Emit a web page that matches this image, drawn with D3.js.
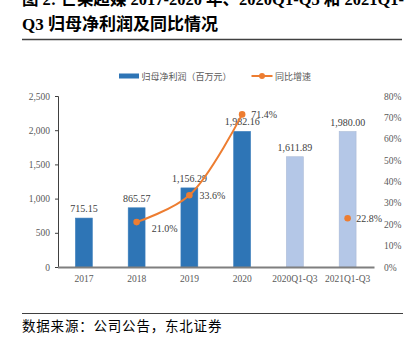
<!DOCTYPE html>
<html><head><meta charset="utf-8">
<script src="https://cdn.jsdelivr.net/npm/d3@7"></script>
<style>
html,body{margin:0;padding:0;background:#fff;}
svg{display:block;}
</style></head>
<body>
<svg id="c" width="410" height="339"></svg>
<script>
const categories = ["2017","2018","2019","2020","2020Q1-Q3","2021Q1-Q3"];
const profit = [715.15, 865.57, 1156.29, 1982.16, 1611.89, 1980.00];
const profitLabels = ["715.15","865.57","1,156.29","1,982.16","1,611.89","1,980.00"];
const growth = [null, 21.0, 33.6, 71.4, null, 22.8];
const leftTicks = [0, 500, 1000, 1500, 2000, 2500];
const rightTicks = [0, 10, 20, 30, 40, 50, 60, 70, 80];
const barKinds = ["year","year","year","year","quarter","quarter"];

const serif = '"Liberation Serif","Times New Roman","Noto Sans CJK SC",serif';
const cjk = '"Noto Sans CJK SC","Liberation Serif",serif';

const svg = d3.select("#c");
const x = d3.scaleBand().domain(categories).range([57.5, 374]).paddingInner(0.68).paddingOuter(0.34);
const yL = d3.scaleLinear().domain([0, 2500]).range([267, 96]);
const yR = d3.scaleLinear().domain([0, 80]).range([267, 96]);

// Title
const title = svg.append("g").attr("font-family", serif).attr("font-weight", "bold").attr("font-size", 17).attr("fill", "#000");
title.append("text").attr("x", 22).attr("y", 5).attr("textLength", 382).attr("lengthAdjust", "spacingAndGlyphs")
  .text("图 2: 芒果超媒 2017-2020 年、2020Q1-Q3 和 2021Q1-");
title.append("text").attr("x", 22).attr("y", 30).text("Q3 归母净利润及同比情况");
svg.append("line").attr("x1", 22).attr("x2", 402).attr("y1", 39.5).attr("y2", 39.5).attr("stroke", "#404040").attr("stroke-width", 1.3);

// Legend
svg.append("rect").attr("x", 119).attr("y", 73.5).attr("width", 20).attr("height", 5).attr("fill", "#2E75B6");
svg.append("text").attr("x", 141.5).attr("y", 79.5).attr("font-family", cjk).attr("font-size", 9).attr("fill", "#595959").text("归母净利润（百万元）");
svg.append("line").attr("x1", 251.5).attr("x2", 272.5).attr("y1", 76).attr("y2", 76).attr("stroke", "#ED7D31").attr("stroke-width", 2);
svg.append("circle").attr("cx", 262).attr("cy", 76).attr("r", 3).attr("fill", "#ED7D31");
svg.append("text").attr("x", 275).attr("y", 79.5).attr("font-family", cjk).attr("font-size", 9).attr("fill", "#595959").text("同比增速");

// Left axis
const gL = svg.append("g").attr("transform", "translate(58,0)")
  .call(d3.axisLeft(yL).tickValues(leftTicks).tickSize(3).tickPadding(5).tickFormat(d3.format(",")));
gL.select(".domain").attr("stroke", "#404040").attr("stroke-width", 1);
gL.selectAll(".tick line").attr("stroke", "#404040");
gL.selectAll("text").attr("font-family", serif).attr("font-size", 9.5).attr("fill", "#595959");

// Right axis
const gR = svg.append("g").attr("transform", "translate(378,0)")
  .call(d3.axisRight(yR).tickValues(rightTicks).tickSize(0).tickPadding(6).tickFormat(d => d + "%"));
gR.select(".domain").remove();
gR.selectAll("text").attr("font-family", serif).attr("font-size", 9.5).attr("fill", "#595959");

// Bars
svg.append("g").selectAll("rect").data(categories).join("rect")
  .attr("x", d => x(d))
  .attr("width", x.bandwidth())
  .attr("y", (d, i) => yL(profit[i]))
  .attr("height", (d, i) => yL(0) - yL(profit[i]))
  .attr("fill", (d, i) => barKinds[i] === "year" ? "#2E75B6" : "#B4C7E7")
  .attr("stroke", (d, i) => barKinds[i] === "year" ? "#3A7DBB" : "#A9B9D6")
  .attr("stroke-width", 0.6);

// X axis
const gX = svg.append("g").attr("transform", "translate(0,267)")
  .call(d3.axisBottom(x).tickSize(0).tickPadding(8));
gX.select(".domain").attr("stroke", "#7F7F7F").attr("stroke-width", 2);
gX.selectAll("text").attr("font-family", serif).attr("font-size", 9.5).attr("fill", "#595959");

// Bar labels
svg.append("g").selectAll("text").data(categories).join("text")
  .attr("x", d => x(d) + x.bandwidth() / 2)
  .attr("y", (d, i) => yL(profit[i]) - 6)
  .attr("text-anchor", "middle")
  .attr("font-family", serif).attr("font-size", 10).attr("fill", "#404040")
  .text((d, i) => profitLabels[i]);

// Growth line
const pts = categories.map((c, i) => ({c, v: growth[i]}));
const line = d3.line().defined(d => d.v !== null)
  .x(d => x(d.c) + x.bandwidth() / 2).y(d => yR(d.v))
  .curve(d3.curveCatmullRom.alpha(0.5));
svg.append("path").datum(pts).attr("d", line).attr("fill", "none").attr("stroke", "#ED7D31").attr("stroke-width", 2);
const defined = pts.filter(d => d.v !== null);
svg.append("g").selectAll("circle").data(defined).join("circle")
  .attr("cx", d => x(d.c) + x.bandwidth() / 2).attr("cy", d => yR(d.v)).attr("r", 3.3).attr("fill", "#ED7D31");
const labOff = {"2018": [15, 10], "2019": [10, 4], "2020": [9, 3.5], "2021Q1-Q3": [8.5, 3.5]};
svg.append("g").selectAll("text").data(defined).join("text")
  .attr("x", d => x(d.c) + x.bandwidth() / 2 + labOff[d.c][0])
  .attr("y", d => yR(d.v) + labOff[d.c][1])
  .attr("font-family", serif).attr("font-size", 10).attr("fill", "#404040")
  .text(d => d.v.toFixed(1) + "%");

// Footer
svg.append("line").attr("x1", 22).attr("x2", 403).attr("y1", 313.5).attr("y2", 313.5).attr("stroke", "#404040").attr("stroke-width", 1);
svg.append("text").attr("x", 22).attr("y", 331).attr("font-family", cjk).attr("font-size", 13.5).attr("letter-spacing", 0.8).attr("fill", "#000").text("数据来源：公司公告，东北证券");
</script>
</body></html>
